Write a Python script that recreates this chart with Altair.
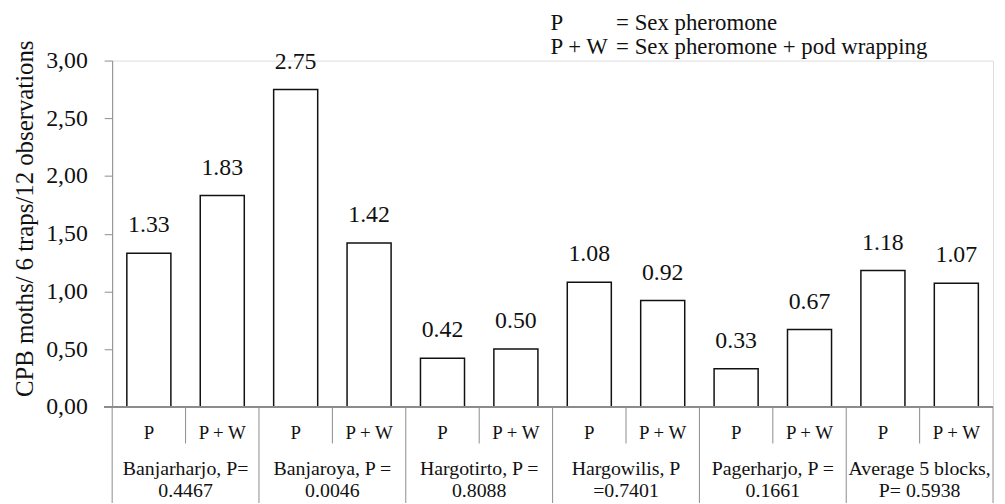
import altair as alt
import pandas as pd

groups_line1 = ["Banjarharjo, P=", "Banjaroya, P =", "Hargotirto, P =", "Hargowilis, P",
                "Pagerharjo, P =", "Average 5 blocks,"]
groups_line2 = ["0.4467", "0.0046", "0.8088", "=0.7401", "0.1661", "P= 0.5938"]
treatments = ["P", "P + W"]
values_p = [1.33, 2.75, 0.42, 1.08, 0.33, 1.18]
values_pw = [1.83, 1.42, 0.50, 0.92, 0.67, 1.07]
legend_keys = ["P", "P + W"]
legend_descs = ["= Sex pheromone", "= Sex pheromone + pod wrapping"]
y_title = "CPB moths/ 6 traps/12 observations"

rows = []
for g in range(len(groups_line1)):
    for t, vals in enumerate([values_p, values_pw]):
        rows.append({"idx": 2 * g + t, "treatment": treatments[t], "value": vals[g]})
bars_df = pd.DataFrame(rows)
groups_df = pd.DataFrame({"gidx": list(range(len(groups_line1))),
                          "line1": groups_line1, "line2": groups_line2})
bounds_df = pd.DataFrame({"b": list(range(0, 2 * len(groups_line1) + 1))})
legend_df = pd.DataFrame({"key": legend_keys, "desc": legend_descs, "row": [0, 1]})

W, H = 888, 349
FONT = "Liberation Serif, Times New Roman, serif"
GRAY = "#8c8c8c"
TXT = "#111111"

xs = alt.Scale(domain=[0, 12], nice=False, zero=False)
ys = alt.Scale(domain=[0, 3], nice=False)

base = alt.Chart(bars_df)

bars = base.transform_calculate(
    x0="datum.idx + 0.2", x1="datum.idx + 0.8"
).mark_bar(fill="white", stroke="#111111", strokeWidth=1.5).encode(
    x=alt.X("x0:Q", scale=xs, axis=None),
    x2="x1:Q",
    y=alt.Y("value:Q", scale=ys,
            axis=alt.Axis(values=[0, 0.5, 1, 1.5, 2, 2.5, 3],
                          labelExpr="replace(format(datum.value, '.2f'), '.', ',')",
                          grid=False, domainColor=GRAY, tickColor=GRAY, tickSize=8,
                          labelFont=FONT, labelFontSize=24, labelColor=TXT,
                          labelPadding=17, title=y_title, titleFont=FONT,
                          titleFontSize=25, titleFontWeight="normal", titleColor=TXT,
                          titleAngle=270, titleX=-88, titleY=159, titleAlign="center",
                          titleBaseline="middle")),
    y2=alt.datum(0),
)

value_labels = base.transform_calculate(
    xc="datum.idx + 0.5"
).mark_text(font=FONT, fontSize=24, baseline="alphabetic", dy=-21, color=TXT).encode(
    x=alt.X("xc:Q", scale=xs),
    y=alt.Y("value:Q", scale=ys),
    text=alt.Text("value:Q", format=".2f"),
)

treat_labels = base.transform_calculate(
    xc="datum.idx + 0.5"
).mark_text(font=FONT, fontSize=19, baseline="alphabetic", color=TXT).encode(
    x=alt.X("xc:Q", scale=xs),
    y=alt.value(381),
    text="treatment:N",
)

gbase = alt.Chart(groups_df).transform_calculate(xc="datum.gidx * 2 + 1")
group_l1 = gbase.mark_text(font=FONT, fontSize=20, baseline="alphabetic", color=TXT).encode(
    x=alt.X("xc:Q", scale=xs), y=alt.value(418), text="line1:N")
group_l2 = gbase.mark_text(font=FONT, fontSize=20, baseline="alphabetic", color=TXT).encode(
    x=alt.X("xc:Q", scale=xs), y=alt.value(440), text="line2:N")

axis_line = alt.Chart(bars_df).mark_rule(color=GRAY, strokeWidth=1.2).encode(
    x=alt.value(-8), x2=alt.value(W), y=alt.value(H))

bchart = alt.Chart(bounds_df)
inner_sep = bchart.transform_filter("datum.b % 2 == 1").mark_rule(color=GRAY, strokeWidth=1).encode(
    x=alt.X("b:Q", scale=xs), y=alt.value(H), y2=alt.value(386))
group_sep = bchart.transform_filter("datum.b % 2 == 0").mark_rule(color=GRAY, strokeWidth=1).encode(
    x=alt.X("b:Q", scale=xs), y=alt.value(H), y2=alt.value(446))

lchart = alt.Chart(legend_df)
legend_layers = []
for r, yv in [(0, -31), (1, -7)]:
    lr = lchart.transform_filter(f"datum.row == {r}")
    legend_layers.append(lr.mark_text(font=FONT, fontSize=23, align="left", baseline="alphabetic",
                                      color=TXT).encode(x=alt.value(442), y=alt.value(yv), text="key:N"))
    legend_layers.append(lr.mark_text(font=FONT, fontSize=23, align="left", baseline="alphabetic",
                                      color=TXT).encode(x=alt.value(508), y=alt.value(yv), text="desc:N"))

chart = alt.layer(
    bars, value_labels, axis_line, inner_sep, group_sep, treat_labels, group_l1, group_l2,
    *legend_layers
).properties(
    width=W, height=H,
    autosize=alt.AutoSizeParams(type="none"),
    padding={"left": 105, "top": 51, "right": 4, "bottom": 96},
).configure_view(stroke=None).configure(background="white")

chart.save("out.html", embed_options={"renderer": "svg", "actions": False})
